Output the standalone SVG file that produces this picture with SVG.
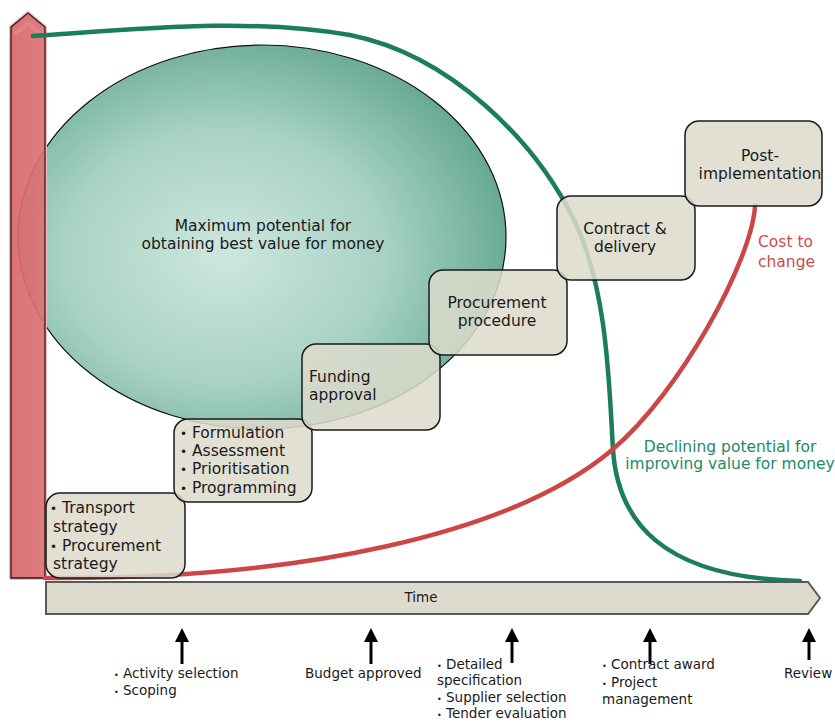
<svg xmlns="http://www.w3.org/2000/svg" width="835" height="722" viewBox="0 0 835 722">
  <defs>
    <radialGradient id="ellGrad" cx="0.42" cy="0.55" r="0.6">
      <stop offset="0" stop-color="#cde7df"/>
      <stop offset="0.55" stop-color="#a8d2c4"/>
      <stop offset="1" stop-color="#66a893"/>
    </radialGradient>
    <linearGradient id="barGrad" x1="0" y1="0" x2="1" y2="0">
      <stop offset="0" stop-color="#d8676c"/>
      <stop offset="1" stop-color="#dc7276"/>
    </linearGradient>
    <style>
      .box { fill: #dcdbcc; fill-opacity: 0.86; stroke: #1a1a1a; stroke-width: 1.5; }
      .bt { font-family: "DejaVu Sans", Verdana, sans-serif; font-size: 15.5px; fill: #1a1a1a; }
      .lbl { font-family: "DejaVu Sans", Verdana, sans-serif; font-size: 13.5px; fill: #1a1a1a; }
      .bul { font-size: 12px; }
      .sbul { font-size: 8px; }
      .green { stroke: #1b7d5b; stroke-width: 4.5; fill: none; stroke-linecap: round; }
      .red { stroke: #cc4646; stroke-width: 4.5; fill: none; stroke-linecap: round; }
      .up { stroke: #000; stroke-width: 3; }
    </style>
  </defs>
  <rect width="835" height="722" fill="#ffffff"/>

  <g id="potential-ellipse">
    <ellipse cx="262" cy="237" rx="244" ry="192" fill="url(#ellGrad)" stroke="#111" stroke-width="1.2"/>
    <text class="bt" x="263" y="231" text-anchor="middle">Maximum potential for</text>
    <text class="bt" x="263" y="249" text-anchor="middle">obtaining best value for money</text>
  </g>

  <g id="cost-axis">
    <polygon points="11,27 28,13 45,27 45,578 11,578" fill="none" stroke="#f2b8ba" stroke-width="4" stroke-linejoin="round"/>
    <polygon points="11,27 28,13 45,27 45,578 11,578" fill="url(#barGrad)" fill-opacity="0.92" stroke="#2a1c1c" stroke-width="1.3"/>
    <polyline points="15,34 28,23 41,34" fill="none" stroke="#e48a8e" stroke-width="4" opacity="0.7"/>
  </g>

  <g id="connectors">
    <path class="green" d="M33,36 C150,28 250,18 350,35 C450,55 535,140 575,222 C607,290 609,380 613,450 C618,520 660,578 800,581"/>
    <path class="red" d="M45,578 C300,580 512,534 612,450 C680,393 752,260 755,206"/>
  </g>

  <g id="node-transport">
    <rect class="box" x="46" y="493" width="139" height="85" rx="14"/>
    <text class="bt" x="50" y="513"><tspan class="bul">•</tspan> Transport</text>
    <text class="bt" x="53" y="532">strategy</text>
    <text class="bt" x="50" y="551"><tspan class="bul">•</tspan> Procurement</text>
    <text class="bt" x="53" y="569">strategy</text>
  </g>

  <g id="node-formulation">
    <rect class="box" x="174" y="419" width="138" height="83" rx="14"/>
    <text class="bt" x="180" y="438"><tspan class="bul">•</tspan> Formulation</text>
    <text class="bt" x="180" y="456"><tspan class="bul">•</tspan> Assessment</text>
    <text class="bt" x="180" y="474"><tspan class="bul">•</tspan> Prioritisation</text>
    <text class="bt" x="180" y="493"><tspan class="bul">•</tspan> Programming</text>
  </g>

  <g id="node-funding">
    <rect class="box" x="302" y="344" width="138" height="86" rx="14"/>
    <text class="bt" x="309" y="382">Funding</text>
    <text class="bt" x="309" y="400">approval</text>
  </g>

  <g id="node-procurement">
    <rect class="box" x="429" y="270" width="138" height="85" rx="14"/>
    <text class="bt" x="497" y="308" text-anchor="middle">Procurement</text>
    <text class="bt" x="497" y="326" text-anchor="middle">procedure</text>
  </g>

  <g id="node-contract">
    <rect class="box" x="557" y="196" width="138" height="84" rx="14"/>
    <text class="bt" x="625" y="234" text-anchor="middle">Contract &amp;</text>
    <text class="bt" x="625" y="252" text-anchor="middle">delivery</text>
  </g>

  <g id="node-post">
    <rect class="box" x="685" y="121" width="137" height="85" rx="14"/>
    <text class="bt" x="760" y="161" text-anchor="middle">Post-</text>
    <text class="bt" x="760" y="179" text-anchor="middle">implementation</text>
  </g>

  <g id="curve-labels">
    <text class="bt" x="758" y="247" style="fill:#d14b4b">Cost to</text>
    <text class="bt" x="758" y="267" style="fill:#d14b4b">change</text>
    <text class="bt" x="730" y="452" text-anchor="middle" style="fill:#1e8a64">Declining potential for</text>
    <text class="bt" x="730" y="469" text-anchor="middle" style="fill:#1e8a64">improving value for money</text>
  </g>

  <g id="time-axis">
    <polygon points="46,582 808,582 820,598 808,614 46,614" fill="#dcdbcd" stroke="#5a5a55" stroke-width="2"/>
    <text class="lbl" x="421" y="602" text-anchor="middle">Time</text>
  </g>

  <g id="milestone-arrows">
    <line class="up" x1="182" y1="664" x2="182" y2="640"/>
    <polygon points="175,642 182,628 189,642"/>
    <line class="up" x1="371" y1="664" x2="371" y2="640"/>
    <polygon points="364,642 371,628 378,642"/>
    <line class="up" x1="512" y1="663" x2="512" y2="640"/>
    <polygon points="505,642 512,628 519,642"/>
    <line class="up" x1="650" y1="664" x2="650" y2="640"/>
    <polygon points="643,642 650,628 657,642"/>
    <line class="up" x1="809" y1="660" x2="809" y2="640"/>
    <polygon points="802,642 809,628 816,642"/>
  </g>

  <g id="milestone-labels">
    <text class="lbl" x="114" y="678"><tspan class="sbul">•</tspan> Activity selection</text>
    <text class="lbl" x="114" y="695"><tspan class="sbul">•</tspan> Scoping</text>
    <text class="lbl" x="305" y="678">Budget approved</text>
    <text class="lbl" x="437" y="669"><tspan class="sbul">•</tspan> Detailed</text>
    <text class="lbl" x="437" y="685">specification</text>
    <text class="lbl" x="437" y="702"><tspan class="sbul">•</tspan> Supplier selection</text>
    <text class="lbl" x="437" y="718"><tspan class="sbul">•</tspan> Tender evaluation</text>
    <text class="lbl" x="602" y="669"><tspan class="sbul">•</tspan> Contract award</text>
    <text class="lbl" x="602" y="687"><tspan class="sbul">•</tspan> Project</text>
    <text class="lbl" x="602" y="704">management</text>
    <text class="lbl" x="784" y="678">Review</text>
  </g>
</svg>
